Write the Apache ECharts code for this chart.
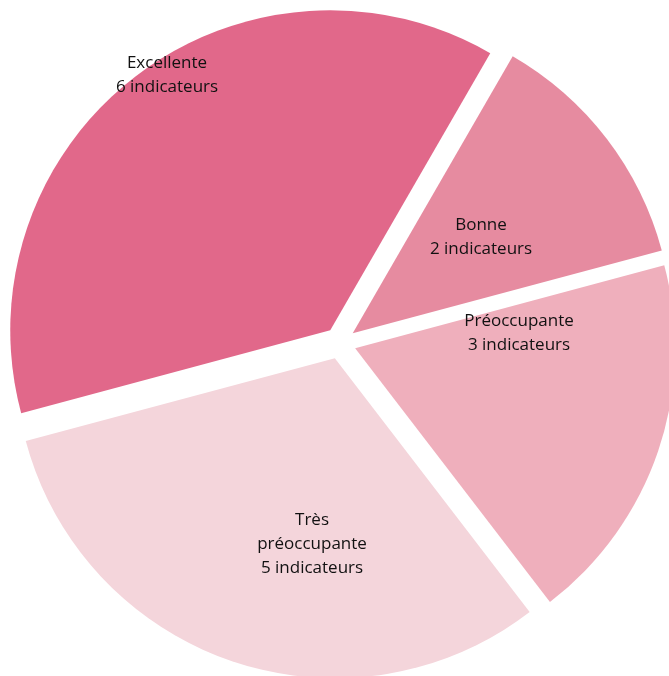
<!DOCTYPE html>
<html>
<head>
<meta charset="utf-8">
<script src="https://cdn.jsdelivr.net/npm/echarts@6/dist/echarts.min.js"></script>
<style>html,body{margin:0;padding:0;background:#fff}#c{width:669px;height:676px}</style>
</head>
<body>
<div id="c"></div>
<script>
const categories = ["Bonne", "Préoccupante", "Très préoccupante", "Excellente"];
const values = [2, 3, 5, 6];
const labelTexts = ["Bonne\n2 indicateurs", "Préoccupante\n3 indicateurs", "Très\npréoccupante\n5 indicateurs", "Excellente\n6 indicateurs"];

const colors = ["#E68BA0", "#EFAFBC", "#F4D5DB", "#E1688A"];
const labelPos = [[481, 237], [519, 333], [312, 544], [167, 75]];

const chart = echarts.init(document.getElementById('c'), null, {renderer: 'canvas'});
chart.setOption({
  animation: false,
  series: [{
    type: 'pie',
    center: [340, 343],
    radius: [0, 320],
    startAngle: 60,
    clockwise: true,
    selectedMode: 'multiple',
    selectedOffset: 16,
    emphasis: {disabled: true},
    itemStyle: {borderWidth: 0},
    label: {show: false},
    labelLine: {show: false},
    data: categories.map((c, i) => ({
      name: c,
      value: values[i],
      selected: true,
      itemStyle: {color: colors[i]},
      select: {itemStyle: {color: colors[i]}}
    }))
  }, {
    type: 'pie',
    center: [340, 343],
    radius: [0, 320],
    startAngle: 60,
    clockwise: true,
    silent: true,
    selectedMode: false,
    avoidLabelOverlap: false,
    emphasis: {disabled: true},
    itemStyle: {color: 'rgba(0,0,0,0)', borderWidth: 0},
    label: {
      show: true,
      position: 'inside',
      color: '#111',
      fontFamily: 'Open Sans',
      fontSize: 17,
      lineHeight: 24,
      align: 'center',
      formatter: p => labelTexts[p.dataIndex]
    },
    labelLine: {show: false},
    labelLayout: function (p) {
      const pos = labelPos[p.dataIndex];
      return {x: pos[0], y: pos[1], align: 'center', verticalAlign: 'middle'};
    },
    data: categories.map((c, i) => ({name: c, value: values[i]}))
  }]
});
</script>
</body>
</html>
